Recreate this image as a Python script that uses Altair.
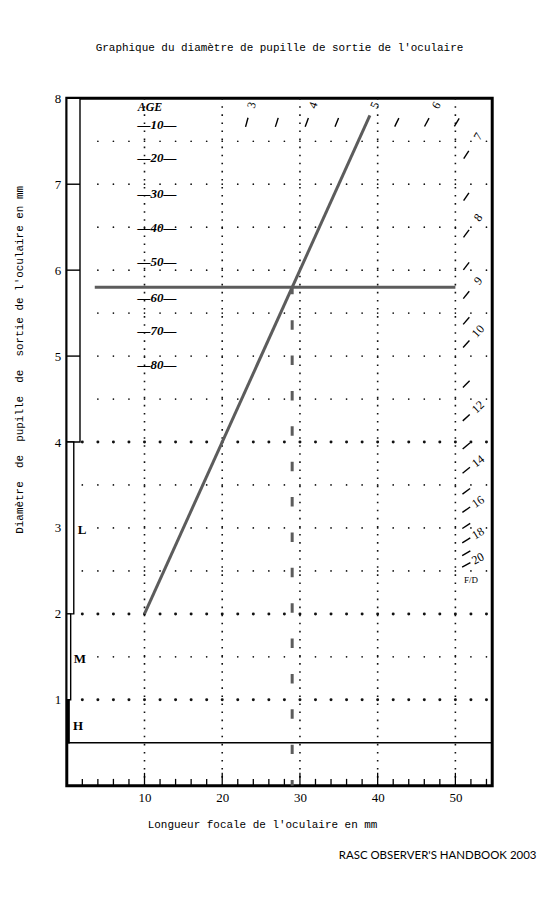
import math
import altair as alt
import pandas as pd

# ---------------- data ----------------
x_labels = [10, 20, 30, 40, 50]
y_labels = [1, 2, 3, 4, 5, 6, 7, 8]
minor_ticks = list(range(2, 55, 2))
major_ticks = [10, 20, 30, 40, 50]

rows_upper = [4.5, 5.0, 5.5, 6.0, 6.5, 7.0, 7.5]
rows_lower = [1.0, 1.5, 2.0, 2.5, 3.0, 3.5, 4.0]
bold_rows = [1.0, 2.0, 4.0]
label_rows = [1.5, 3.0]
grid_x_upper = list(range(4, 55, 2))
grid_x_lower = list(range(2, 55, 2))
dotted_cols = [10, 20, 30, 40, 50]

ages = [10, 20, 30, 40, 50, 60, 70, 80]
age_d = [7.69, 7.30, 6.89, 6.49, 6.10, 5.68, 5.29, 4.90]

top_tick_N = [3, 3.5, 4, 4.5, 5, 5.5, 6, 6.5]
right_tick_N = [7, 7.5, 8, 8.5, 9, 9.5, 10, 11, 12, 13, 14, 15, 16, 17, 18, 19, 20]
top_label_N = [3, 4, 5, 6]
right_label_N = [7, 8, 9, 10, 12, 14, 16, 18, 20]

bar_lo = [4, 2, 1, 0.5]
bar_hi = [8, 4, 2, 1]
bar_w = [1.7, 0.9, 0.5, 0.3]
bar_fill = ["white", "white", "white", "black"]
bar_ticks = [5, 6, 7]
mag_labels = ["L", "M", "H"]
mag_x = [1.4, 0.9, 0.8]
mag_y = [2.98, 1.48, 0.7]

ex_F = [10, 39]
ex_d = [2.0, 7.8]
pupil_d = 5.8
pupil_x = [3.6, 50]
focal = 29

XMAX = 54.74
W, H = 427, 690

# ---------------- helpers ----------------
xs = alt.Scale(domain=[0, XMAX], nice=False, zero=False)
ys = alt.Scale(domain=[0, 8], nice=False, zero=False)

x_axis = alt.Axis(values=x_labels, ticks=False, domain=False, grid=False,
                  labelFont="Liberation Serif", labelFontSize=13, labelColor="black",
                  labelPadding=6, title="Longueur focale de l'oculaire en mm",
                  titleFont="Liberation Mono", titleFontSize=11, titleFontWeight="normal",
                  titleColor="black", titleX=196, titleY=39, titleBaseline="middle")
ytitle = "Diamètre\u00a0\u00a0de\u00a0\u00a0pupille\u00a0\u00a0de\u00a0\u00a0sortie de l'oculaire en mm"
y_axis = alt.Axis(values=y_labels, ticks=False, domain=False, grid=False,
                  labelFont="Liberation Serif", labelFontSize=13, labelColor="black",
                  labelPadding=6, title=ytitle,
                  titleFont="Liberation Mono", titleFontSize=11, titleFontWeight="normal",
                  titleColor="black", titleX=-47, titleY=262, titleAngle=270,
                  titleBaseline="middle")


def X(f):
    return alt.X(f"{f}:Q", scale=xs, axis=x_axis)


def Y(f):
    return alt.Y(f"{f}:Q", scale=ys, axis=y_axis)


# ---------------- tables ----------------
grid_rows = []
for r in rows_upper:
    for gx in grid_x_upper:
        grid_rows.append({"F": gx, "d": r, "bold": r in bold_rows})
for r in rows_lower:
    for gx in grid_x_lower:
        if r in label_rows and gx < 4:
            continue
        grid_rows.append({"F": gx, "d": r, "bold": r in bold_rows})
grid_df = pd.DataFrame(grid_rows)

cols_df = pd.DataFrame({"F": dotted_cols, "d0": 0, "d1": 8})

ticks_df = pd.DataFrame({"F": minor_ticks, "d0": 0,
                         "d1": [0.15 if t in major_ticks else 0.08 for t in minor_ticks]})

base_df = pd.DataFrame({"F": [0], "F2": [XMAX], "d": [0.5]})

bar_df = pd.DataFrame({"x0": 0, "x1": bar_w, "d0": bar_lo, "d1": bar_hi, "fill": bar_fill})
bar_tick_df = pd.DataFrame({"x0": 0, "x1": bar_w[0], "d": bar_ticks})
mag_df = pd.DataFrame({"t": mag_labels, "F": mag_x, "d": mag_y})

age_df = pd.DataFrame({"t": ["\u2014" + str(a) + "\u2014" for a in ages], "F": 11.6, "d": age_d})
age_title_df = pd.DataFrame({"t": ["AGE"], "F": [10.7], "d": [7.9]})

px_per_x = W / XMAX
px_per_y = H / 8.0


def ray_angle(n):
    return math.degrees(math.atan(px_per_y / (px_per_x * n)))


fr_ticks = []
for n in top_tick_N:
    fr_ticks.append({"F": 7.72 * n, "d": 7.72, "ang": 90 - ray_angle(n)})
for n in right_tick_N:
    fr_ticks.append({"F": 51.4, "d": 51.4 / n, "ang": 90 - ray_angle(n)})
fr_ticks_df = pd.DataFrame(fr_ticks)

fr_labels = []
for n in top_label_N:
    fr_labels.append({"t": str(n), "F": 7.92 * n, "d": 7.92, "ang": 360 - ray_angle(n)})
for n in right_label_N:
    fr_labels.append({"t": str(n), "F": 52.9, "d": 52.9 / n, "ang": 360 - ray_angle(n)})
fr_labels_df = pd.DataFrame(fr_labels)
fd_df = pd.DataFrame({"t": ["F/D"], "F": [52.0], "d": [2.4]})

diag_df = pd.DataFrame({"F": [ex_F[0]], "F2": [ex_F[1]], "d": [ex_d[0]], "d2": [ex_d[1]]})
horiz_df = pd.DataFrame({"F": [pupil_x[0]], "F2": [pupil_x[1]], "d": [pupil_d]})
vert_df = pd.DataFrame({"F": [focal], "d": [pupil_d], "d2": [0]})

# ---------------- layers ----------------
GRAY = "#5c5c5c"

grid = alt.Chart(grid_df).mark_circle(color="#111", opacity=1).encode(
    x=X("F"), y=Y("d"),
    size=alt.Size("bold:N", scale=alt.Scale(domain=[False, True], range=[3, 9]), legend=None))

cols = alt.Chart(cols_df).mark_rule(color="#111", strokeWidth=1.6, strokeDash=[1.6, 6.5]).encode(
    x=X("F"), y=Y("d0"), y2="d1")

xticks = alt.Chart(ticks_df).mark_rule(color="black", strokeWidth=1.3).encode(
    x=X("F"), y=Y("d0"), y2="d1")

base = alt.Chart(base_df).mark_rule(color="black", strokeWidth=1.4).encode(
    x=X("F"), x2="F2", y=Y("d"))

bars = alt.Chart(bar_df).mark_rect(stroke="black", strokeWidth=1.4).encode(
    x=X("x0"), x2="x1", y=Y("d0"), y2="d1",
    fill=alt.Fill("fill:N", scale=None))

bar_ticks_l = alt.Chart(bar_tick_df).mark_rule(color="black", strokeWidth=1.4).encode(
    x=X("x0"), x2="x1", y=Y("d"))

mags = alt.Chart(mag_df).mark_text(font="Liberation Serif", fontSize=13, fontWeight="bold",
                                   align="left", baseline="middle", color="black").encode(
    x=X("F"), y=Y("d"), text="t:N")

age_t = alt.Chart(age_df).mark_text(font="Liberation Serif", fontSize=13, fontWeight="bold",
                                    fontStyle="italic", align="center", baseline="middle",
                                    color="black").encode(x=X("F"), y=Y("d"), text="t:N")
age_h = alt.Chart(age_title_df).mark_text(font="Liberation Serif", fontSize=12, fontWeight="bold",
                                          fontStyle="italic", align="center", baseline="middle",
                                          color="black").encode(x=X("F"), y=Y("d"), text="t:N")

frt = alt.Chart(fr_ticks_df).mark_point(shape="M0,-1L0,1", filled=False, stroke="black",
                                        strokeWidth=1.4, size=90, opacity=1).encode(
    x=X("F"), y=Y("d"), angle=alt.Angle("ang:Q", scale=None))

frl = alt.Chart(fr_labels_df).mark_text(font="Liberation Serif", fontSize=12, align="center",
                                        baseline="middle", color="black").encode(
    x=X("F"), y=Y("d"), text="t:N", angle=alt.Angle("ang:Q", scale=None))

fd = alt.Chart(fd_df).mark_text(font="Liberation Serif", fontSize=9, align="center",
                                baseline="middle", color="black").encode(
    x=X("F"), y=Y("d"), text="t:N")

diag = alt.Chart(diag_df).mark_rule(color=GRAY, strokeWidth=3).encode(
    x=X("F"), x2="F2", y=Y("d"), y2="d2")
horiz = alt.Chart(horiz_df).mark_rule(color=GRAY, strokeWidth=3).encode(
    x=X("F"), x2="F2", y=Y("d"))
vert = alt.Chart(vert_df).mark_rule(color=GRAY, strokeWidth=3, strokeDash=[9.5, 26],
                                    strokeDashOffset=2.5).encode(
    x=X("F"), y=Y("d"), y2="d2")

footer = alt.Chart(pd.DataFrame({"t": ["RASC OBSERVER'S HANDBOOK 2003"]})).mark_text(
    font="Lato", fontSize=11.5, align="left", baseline="middle", color="black").encode(
    x=alt.value(273), y=alt.value(761), text="t:N")

chart = alt.layer(
    grid, cols, xticks, base, bars, bar_ticks_l, mags, age_t, age_h,
    frt, frl, fd, diag, horiz, vert, footer
).properties(
    width=W, height=H,
    background="white",
    title=alt.TitleParams("Graphique du diamètre de pupille de sortie de l'oculaire",
                          font="Liberation Mono", fontSize=11, fontWeight="normal",
                          color="black", anchor="middle", offset=39),
    autosize=alt.AutoSizeParams(type="none"),
    padding={"left": 59, "top": 89, "right": 60, "bottom": 100},
).configure_view(stroke="black", strokeWidth=3)

chart.save("out.html", embed_options={"renderer": "svg", "actions": False})
